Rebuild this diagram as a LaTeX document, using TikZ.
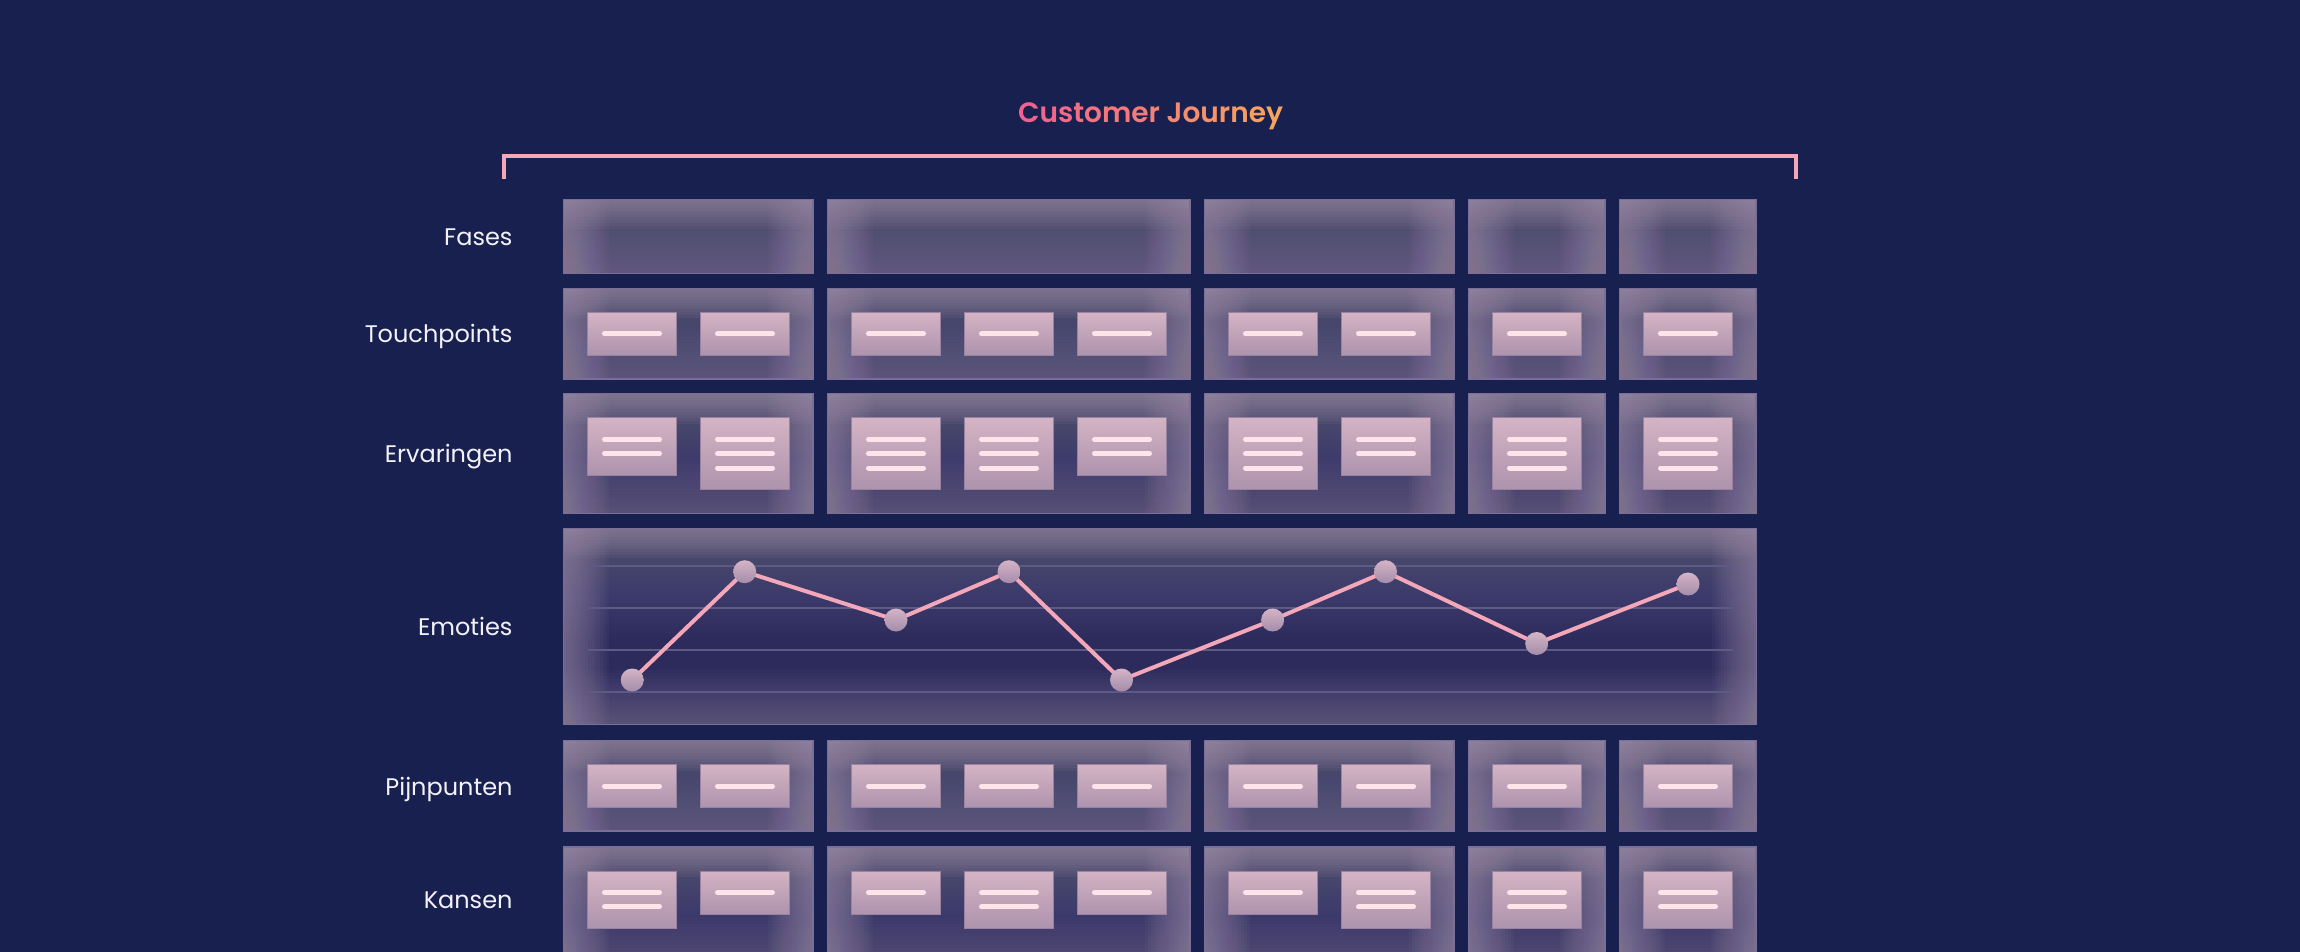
\documentclass[tikz,border=0pt]{standalone}
\usepackage{fontspec}
\setmainfont{Poppins}
\newfontfamily\titlefont{Poppins}[UprightFont=* SemiBold]
\usepackage{tikz}
\usetikzlibrary{calc}
\definecolor{navybg}{HTML}{18204F}
\definecolor{boxbase}{HTML}{2C2B5C}
\definecolor{glowc}{HTML}{A08EAA}
\definecolor{boxedge}{HTML}{7A6F98}
\definecolor{cardtop}{HTML}{D4B4C4}
\definecolor{cardbot}{HTML}{AE93AD}
\definecolor{cardedge}{HTML}{9A82A2}
\definecolor{cardline}{HTML}{FFE4EA}
\definecolor{pinkline}{HTML}{F3A7B8}
\definecolor{gridc}{HTML}{5E5A86}
\definecolor{dottop}{HTML}{D4B4C6}
\definecolor{dotbot}{HTML}{A48CAA}
\definecolor{labelc}{HTML}{F4F2F8}
\definecolor{ttlA}{HTML}{F0628F}
\definecolor{ttlB}{HTML}{F7A35C}

% stage box with inner glow: x, y, width, height
\newcommand{\stagebox}[4]{%
  \begin{scope}
  \clip ({#1},{#2}) rectangle ++({#3},{#4});
  \fill[boxbase] ({#1},{#2}) rectangle ++({#3},{#4});
  \foreach \k in {1,...,37}{\fill[glowc, fill opacity=0.0175] ({#1},{#2}) rectangle ++({#3},3*\k);}
  \foreach \k in {1,...,10}{\fill[glowc, fill opacity=0.0875] ({#1},{#2}) rectangle ++({#3},3*\k);}
  \foreach \k in {1,...,15}{%
    \fill[glowc, fill opacity=0.0593] ({#1},{#2}) rectangle ++(3*\k,{#4});
    \fill[glowc, fill opacity=0.0593] ({#1+#3},{#2}) rectangle ++(-3*\k,{#4});}
  \foreach \k in {1,...,18}{\fill[glowc, fill opacity=0.0327] ({#1},{#2+#4}) rectangle ++({#3},-3*\k);}
  \end{scope}
  \draw[boxedge, line width=1.2] ({#1},{#2}) rectangle ++({#3},{#4});
}
% card with text lines: x, y, number of lines
\newcommand{\card}[3]{%
  \shadedraw[top color=cardtop, bottom color=cardbot, draw=cardedge, line width=1]
    ({#1},{#2}) rectangle ++(88.8,{43+14.4*(#3-1)});
  \foreach \l in {1,...,#3}{%
    \draw[cardline, line width=5, line cap=round] ({#1+17},{#2+21.5+14.4*(\l-1)}) -- ++(55,0);}
}

\begin{document}
\begin{tikzpicture}[
  x=1pt, y=-1pt,
  rowlabel/.style={anchor=base east, inner sep=0pt, text=labelc, font=\fontsize{24}{28}\selectfont},
  titletext/.style={anchor=base, inner sep=0pt, font=\titlefont\fontsize{28}{32}\selectfont},
  bracket/.style={pinkline, line width=3.7, line join=miter},
  gridl/.style={gridc, line width=1.8},
  emoline/.style={pinkline, line width=4, line join=round},
  emodot/.style={circle, minimum size=23, inner sep=0pt, top color=dottop, bottom color=dotbot}
]
\useasboundingbox (0,0) rectangle (2300,952);
\fill[navybg] (0,0) rectangle (2300,952);
\clip (0,0) rectangle (2300,952);

% title and bracket
\node[titletext] (title) at (1150.5,122.3)
  {\foreach \ch [count=\i from 0] in {C,u,s,t,o,m,e,r,\ ,J,o,u,r,n,e,y}{%
     \pgfmathtruncatemacro\pct{100-\i*100/15}\textcolor{ttlA!\pct!ttlB}{\ch}}};
\coordinate (brl) at (503.8,179.5);
\coordinate (brr) at (1796,179.5);
\draw[bracket] (brl) -- ++(0,-23.7) -| (brr);

% row labels
\node[rowlabel] (lblfases) at (512.7,245.5) {Fases};
\node[rowlabel] (lbltouch) at (512.7,342.8) {Touchpoints};
\node[rowlabel] (lblerv)   at (512.7,462.9) {Ervaringen};
\node[rowlabel] (lblemo)   at (512.7,635.7) {Emoties};
\node[rowlabel] (lblpijn)  at (512.7,795.0) {Pijnpunten};
\node[rowlabel] (lblkans)  at (512.7,908.3) {Kansen};

% phase columns: start x / cards / lines per Ervaringen card / lines per Kansen card
\foreach \cx/\n/\erv/\kan in {563.5/2/{2,3}/{2,1}, 827.5/3/{3,3,2}/{1,2,1},
    1204.5/2/{3,2}/{1,2}, 1468.5/1/{3}/{2}, 1619.5/1/{3}/{2}}{
  \pgfmathsetmacro\cw{113*\n+23.5}
  \stagebox{\cx}{199.3}{\cw}{74}
  \stagebox{\cx}{288.3}{\cw}{90.7}
  \stagebox{\cx}{393.7}{\cw}{119.6}
  \stagebox{\cx}{740.7}{\cw}{90.3}
  \stagebox{\cx}{847}{\cw}{125}
  \foreach \j in {1,...,\n}{
    \card{\cx+24+113*(\j-1)}{312.3}{1}
    \card{\cx+24+113*(\j-1)}{764.7}{1}}
  \foreach \nl [count=\j from 0] in \erv {\card{\cx+24+113*\j}{417.7}{\nl}}
  \foreach \nl [count=\j from 0] in \kan {\card{\cx+24+113*\j}{871}{\nl}}
}

% emotion curve
\stagebox{563.5}{528.3}{1193}{196}
\foreach \gy in {565.8,607.7,649.7,691.7}
  \draw[gridl] (587.5,\gy) -- (1732.5,\gy);
\foreach \px/\py [count=\i] in {632.2/680, 744.7/571.7, 896/620, 1009/571.7,
    1121.5/680, 1272.6/620, 1385.5/571.7, 1536.7/643.5, 1688/584}
  \coordinate (e\i) at (\px,\py);
\draw[emoline] (e1) -- (e2) -- (e3) -- (e4) -- (e5) -- (e6) -- (e7) -- (e8) -- (e9);
\foreach \i in {1,...,9}
  \node[emodot] (dot\i) at (e\i) {};

\end{tikzpicture}
\end{document}
